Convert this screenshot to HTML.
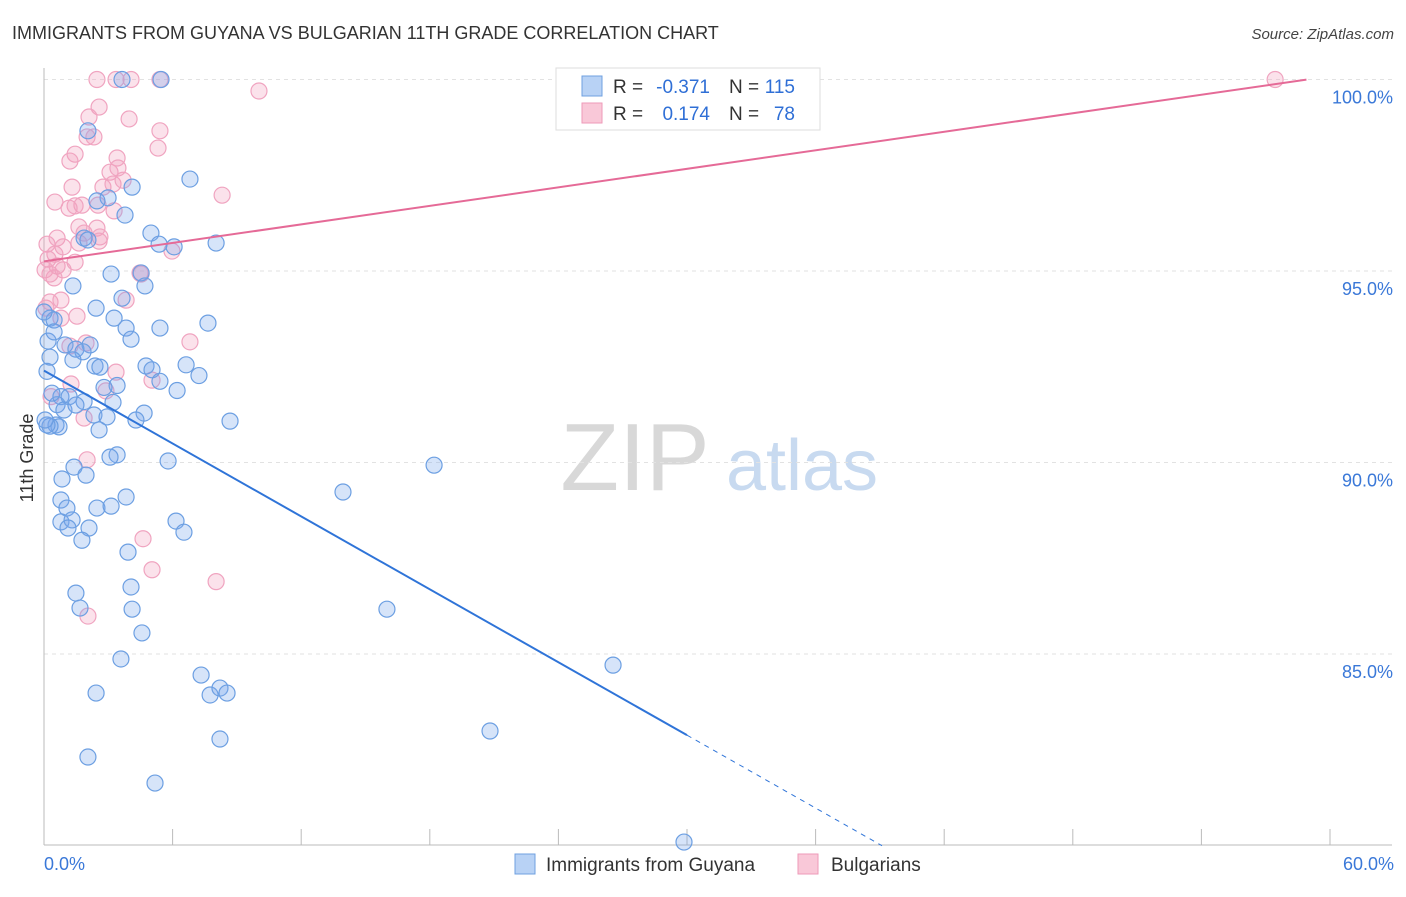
<!DOCTYPE html>
<html><head><meta charset="utf-8"><style>
body{margin:0;background:#fff;font-family:"Liberation Sans",sans-serif;}
svg text{font-family:"Liberation Sans",sans-serif;}
</style></head><body>
<svg id="chart" width="1406" height="892" xmlns="http://www.w3.org/2000/svg">
<text x="12" y="39" font-size="18" fill="#333">IMMIGRANTS FROM GUYANA VS BULGARIAN 11TH GRADE CORRELATION CHART</text>
<text x="1394" y="39" font-size="15" fill="#444" text-anchor="end" font-style="italic">Source: ZipAtlas.com</text>
<text transform="translate(33,458) rotate(-90)" font-size="18" fill="#333" text-anchor="middle">11th Grade</text>
<g>
<text x="635" y="490" font-size="96" fill="#d8d8d8" font-family="Liberation Serif" text-anchor="middle">ZIP</text>
<text x="802" y="490" font-size="72" fill="#c8daf0" text-anchor="middle">atlas</text>
</g>
<g id="grid"></g><g id="axes"></g><g id="pts"></g><g id="lines"></g>
<g>
<rect x="556" y="68" width="264" height="62" fill="#fff" stroke="#ddd"/>
<rect x="582" y="76" width="20" height="20" fill="#b8d2f5" stroke="#6fa0e0"/>
<rect x="582" y="103" width="20" height="20" fill="#f9c8d8" stroke="#ee9ab8"/>
<text x="613" y="93" font-size="19" fill="#333">R =</text>
<text x="710" y="93" font-size="19" fill="#2f6fd6" text-anchor="end">-0.371</text>
<text x="729" y="93" font-size="19" fill="#333">N =</text>
<text x="795" y="93" font-size="19" fill="#2f6fd6" text-anchor="end">115</text>
<text x="613" y="120" font-size="19" fill="#333">R =</text>
<text x="710" y="120" font-size="19" fill="#2f6fd6" text-anchor="end">0.174</text>
<text x="729" y="120" font-size="19" fill="#333">N =</text>
<text x="795" y="120" font-size="19" fill="#2f6fd6" text-anchor="end">78</text>
</g>
<g>
<rect x="515" y="854" width="20" height="20" fill="#b8d2f5" stroke="#6fa0e0"/>
<text x="546" y="871" font-size="19" fill="#333">Immigrants from Guyana</text>
<rect x="798" y="854" width="20" height="20" fill="#f9c8d8" stroke="#ee9ab8"/>
<text x="831" y="871" font-size="19" fill="#333">Bulgarians</text>
</g>
</svg>
<script>
const xTicks=[0,6,12,18,24,30,36,42,48,54,60];
const yTicks=[85,90,95,100];
const yTickLabels=["85.0%","90.0%","95.0%","100.0%"];
const blueX=[3.64,5.46,2.05,4.11,6.81,2.99,3.78,2.47,4.99,1.87,2.05,5.37,6.07,8.03,3.13,4.53,1.35,4.71,3.64,2.43,0.28,0.47,3.27,5.41,3.83,7.65,4.06,0.19,0.98,2.15,1.49,1.82,0.28,1.35,2.38,4.76,6.63,5.04,0.14,7.23,5.41,3.41,2.80,6.21,0.79,1.17,1.87,0.61,3.22,0.93,4.67,2.33,2.94,4.29,8.68,0.56,0.70,0.28,2.57,3.41,3.08,5.79,18.2,1.40,1.96,0.84,13.95,3.83,0.79,1.07,2.47,3.13,0.79,1.31,1.12,2.10,6.16,6.53,1.77,3.92,4.06,1.49,1.68,4.11,16.0,4.57,26.55,3.59,7.33,2.43,7.75,8.21,8.54,20.81,8.21,2.05,5.18,29.86,0.14,0.05,0.37,1.49,2.61,0.47,0.0];
const blueY=[100,100,98.66,97.19,97.40,96.91,96.46,96.83,95.99,95.86,95.81,95.70,95.63,95.73,94.92,94.95,94.61,94.61,94.29,94.03,93.77,93.72,93.77,93.51,93.51,93.64,93.22,93.17,93.07,93.07,92.96,92.89,92.75,92.68,92.52,92.52,92.55,92.42,92.38,92.27,92.12,92.01,91.96,91.88,91.72,91.72,91.59,91.51,91.57,91.37,91.29,91.24,91.19,91.11,91.08,90.98,90.93,90.95,90.85,90.20,90.14,90.04,89.93,89.88,89.67,89.57,89.23,89.10,89.02,88.81,88.81,88.86,88.45,88.50,88.29,88.29,88.47,88.18,87.97,87.66,86.75,86.59,86.20,86.17,86.17,85.55,84.71,84.87,84.45,83.98,83.93,84.11,83.98,82.99,82.78,82.31,81.63,80.09,90.98,91.11,91.81,91.50,92.49,93.41,93.93];
const pinkX=[2.47,3.36,4.06,5.41,10.03,57.44,2.57,2.10,3.97,5.41,2.01,2.33,5.32,1.45,1.21,3.41,3.08,3.45,1.31,2.75,3.22,8.31,0.51,1.77,2.52,1.17,1.45,3.27,2.47,1.63,1.87,2.61,2.57,0.14,0.61,0.89,1.63,5.97,0.51,0.19,0.61,1.45,0.05,0.89,4.48,0.47,0.28,0.09,0.79,1.54,0.79,3.83,6.81,1.96,1.21,3.36,5.04,1.26,2.89,0.33,1.87,2.01,4.62,5.04,8.03,2.05,0.28,3.69,4.53];
const pinkY=[100,100,100,100,99.70,100,99.28,99.02,98.97,98.66,98.50,98.50,98.21,98.05,97.87,97.95,97.58,97.69,97.19,97.19,97.27,96.98,96.80,96.72,96.72,96.64,96.70,96.57,96.12,96.15,95.99,95.89,95.78,95.70,95.86,95.63,95.73,95.52,95.44,95.31,95.13,95.23,95.03,95.03,94.95,94.82,94.19,94.03,94.24,93.82,93.77,94.24,93.15,93.12,93.04,92.36,92.15,92.05,91.87,91.72,91.16,90.07,88.01,87.20,86.89,85.99,94.92,97.37,94.92];
const blueTrend=[92.4,-0.3173];
const pinkTrend=[95.25,0.0806];
const NS="http://www.w3.org/2000/svg";
const X=v=>44+v/60*1286;
const Y=v=>79.5+(100-v)*38.3;
function mk(tag,attrs,parent){const e=document.createElementNS(NS,tag);for(const k in attrs)e.setAttribute(k,attrs[k]);document.getElementById(parent).appendChild(e);return e;}
yTicks.forEach((t,i)=>{
  const g=mk('line',{x1:44,x2:1392,y1:Y(t),y2:Y(t),stroke:'#e2e2e2','stroke-dasharray':'4,4'},'grid');
  
  
  const tx=mk('text',{x:1393,y:Y(t)+24,'font-size':18,fill:'#3a78d8','text-anchor':'end'},'axes');
  tx.textContent=yTickLabels[i];
  
  
});
const xa=mk('line',{x1:44,x2:1392,y1:845,y2:845,stroke:'#bbb'},'axes');


const ya=mk('line',{x1:44,x2:44,y1:68,y2:845,stroke:'#bbb'},'axes');


xTicks.forEach(t=>{
  const l=mk('line',{x1:X(t),x2:X(t),y1:829,y2:845,stroke:'#bbb'},'axes');
  
  
});
[[0,"0.0%","start",44],[60,"60.0%","end",1394]].forEach(d=>{
  const t=mk('text',{x:d[3],y:870,'font-size':18,fill:'#3a78d8','text-anchor':d[2]},'axes');
  t.textContent=d[1];
  
  
});
pinkX.forEach((v,i)=>{
  const c=mk('circle',{cx:X(v),cy:Y(pinkY[i]),r:8,fill:'rgba(243,160,190,0.3)',stroke:'#f0a4c0','stroke-width':1.2},'pts');
  
  
});
blueX.forEach((v,i)=>{
  const c=mk('circle',{cx:X(v),cy:Y(blueY[i]),r:8,fill:'rgba(120,165,235,0.3)',stroke:'#6c9fe2','stroke-width':1.2},'pts');
  
  
});
const bl=mk('line',{x1:X(0),y1:Y(blueTrend[0]),x2:X(30),y2:Y(blueTrend[0]+blueTrend[1]*30),stroke:'#2f74d8','stroke-width':2},'lines');


const bd=mk('line',{x1:X(30),y1:Y(blueTrend[0]+blueTrend[1]*30),x2:X(39.1),y2:Y(blueTrend[0]+blueTrend[1]*39.1),stroke:'#2f74d8','stroke-width':1,'stroke-dasharray':'5,5'},'lines');


const pl=mk('line',{x1:X(0),y1:Y(pinkTrend[0]),x2:X(58.9),y2:Y(pinkTrend[0]+pinkTrend[1]*58.9),stroke:'#e56a97','stroke-width':2},'lines');


</script>
</body></html>
